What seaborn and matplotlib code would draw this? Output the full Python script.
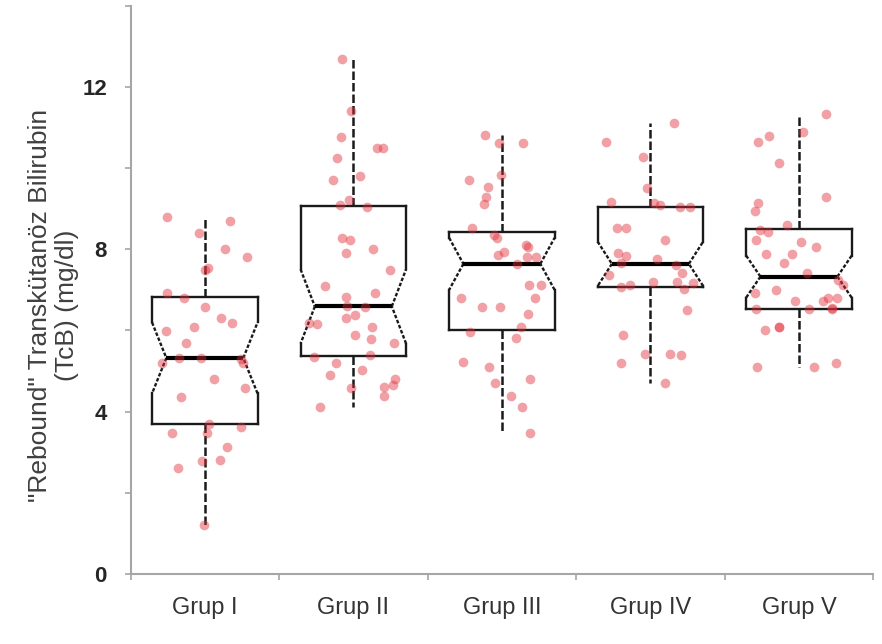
import numpy as np
import pandas as pd
import seaborn as sns
import matplotlib.pyplot as plt
from matplotlib.path import Path

# Values (TcB, mg/dl)
groups = ["Grup I", "Grup II", "Grup III", "Grup IV", "Grup V"]

grup_1 = [8.79, 8.69, 8.40, 8.00, 7.81, 7.53, 7.49, 6.92, 6.80, 6.58,
          6.30, 6.18, 6.08, 5.98, 5.69, 5.30, 5.32, 5.32, 5.20, 5.20,
          4.80, 4.58, 4.36, 3.70, 3.62, 3.47, 3.47, 3.13, 2.81, 2.79,
          2.61, 1.21]
grup_2 = [12.68, 11.40, 10.76, 10.49, 10.49, 10.25, 9.80, 9.70, 9.21, 9.10,
          9.05, 8.28, 8.23, 8.00, 7.90, 7.49, 7.09, 6.92, 6.83, 6.60,
          6.58, 6.38, 6.30, 6.18, 6.15, 6.08, 5.89, 5.79, 5.69, 5.39,
          5.35, 5.20, 5.02, 4.90, 4.80, 4.65, 4.61, 4.58, 4.38, 4.11]
grup_3 = [10.81, 10.61, 10.61, 9.83, 9.70, 9.53, 9.29, 9.11, 8.52, 8.35,
          8.28, 8.10, 8.05, 7.93, 7.86, 7.81, 7.81, 7.64, 7.12, 7.12,
          6.80, 6.80, 6.58, 6.58, 6.40, 6.08, 5.96, 5.81, 5.22, 5.10,
          4.80, 4.70, 4.38, 4.11, 3.47]
grup_4 = [11.11, 10.64, 10.27, 9.51, 9.16, 9.14, 9.10, 9.04, 9.03, 8.52,
          8.52, 8.23, 7.90, 7.83, 7.76, 7.66, 7.62, 7.41, 7.36, 7.19,
          7.19, 7.17, 7.12, 7.08, 7.02, 6.50, 5.89, 5.42, 5.42, 5.39,
          5.20, 4.70]
grup_5 = [11.33, 10.89, 10.79, 10.64, 10.12, 9.29, 9.14, 8.94, 8.60, 8.48,
          8.42, 8.23, 8.18, 8.05, 7.88, 7.88, 7.66, 7.41, 7.24, 7.12,
          7.00, 6.92, 6.80, 6.80, 6.72, 6.72, 6.54, 6.52, 6.52, 6.52,
          6.08, 6.08, 6.01, 5.20, 5.10, 5.10]

values = [grup_1, grup_2, grup_3, grup_4, grup_5]
df = pd.DataFrame({
    "grup": np.repeat(groups, [len(v) for v in values]),
    "tcb": np.concatenate(values),
})

sns.set_style("white")
plt.rcParams["font.family"] = ["Liberation Sans", "DejaVu Sans"]

fig = plt.figure(figsize=(8.82, 6.44), dpi=100)
ax = fig.add_axes([0.148, 0.109, 0.842, 0.882])

line_col = "#1a1a1a"
sns.boxplot(
    data=df, x="grup", y="tcb", order=groups, notch=True, whis=(0, 100),
    width=0.71, showcaps=False, showfliers=False, color="white",
    linecolor=line_col, linewidth=1.6,
    medianprops={"visible": False},
    whiskerprops={"linestyle": (0, (3.4, 1.2)), "linewidth": 1.8},
    ax=ax,
)

# redraw box outlines: solid sides, dashed notches, thick median
for patch in list(ax.patches):
    path = patch.get_path()
    verts = path.vertices.copy()
    left, right = verts[0, 0], verts[1, 0]
    centre, half = (left + right) / 2, (right - left) / 2
    verts[3, 0] = centre + 0.73 * half
    verts[8, 0] = centre - 0.73 * half
    patch.set_path(Path(verts, path.codes))
    patch.set_edgecolor("none")
    patch.set_zorder(1)
    for a, b in zip(verts[:-1], verts[1:]):
        diagonal = a[0] != b[0] and a[1] != b[1]
        ax.plot([a[0], b[0]], [a[1], b[1]], color=line_col, lw=1.7,
                ls=(0, (1.5, 0.8)) if diagonal else "-",
                solid_capstyle="projecting", zorder=2.5)
    ax.plot([verts[8, 0], verts[3, 0]], [verts[8, 1], verts[3, 1]],
            color="black", lw=3, solid_capstyle="butt", zorder=2.6)

np.random.seed(7)
sns.stripplot(
    data=df, x="grup", y="tcb", order=groups, jitter=0.3,
    color="#e0303a", alpha=0.45, size=7, linewidth=0, zorder=3, ax=ax,
)

ax.set_xlim(-0.5, 4.5)
ax.set_ylim(0, 14)
ax.set_yticks([0, 4, 8, 12])
ax.set_yticks([2, 6, 10, 14], minor=True)
ax.set_xticks(np.arange(-0.5, 5, 1), minor=True)

sns.despine(ax=ax)
for side in ["left", "bottom"]:
    ax.spines[side].set_color("#a6a6a6")
    ax.spines[side].set_linewidth(1.5)

ax.tick_params(axis="x", which="major", length=0, pad=17,
               labelsize=17, labelcolor="#333333")
ax.tick_params(axis="x", which="minor", bottom=True, length=4,
               color="#a6a6a6", width=1.2)
ax.tick_params(axis="y", which="both", left=True, length=4,
               color="#a6a6a6", width=1.2, pad=13)
ax.tick_params(axis="y", which="major", labelsize=16)
for lab in ax.get_yticklabels():
    lab.set_fontweight("bold")

ax.set_xlabel("")
ax.set_ylabel('"Rebound" Transkütanöz Bilirubin\n(TcB) (mg/dl)',
              fontsize=19, color="#404040", linespacing=1.15)
ax.yaxis.set_label_coords(-0.07, 0.473)

fig.savefig("out.png", dpi=100)
